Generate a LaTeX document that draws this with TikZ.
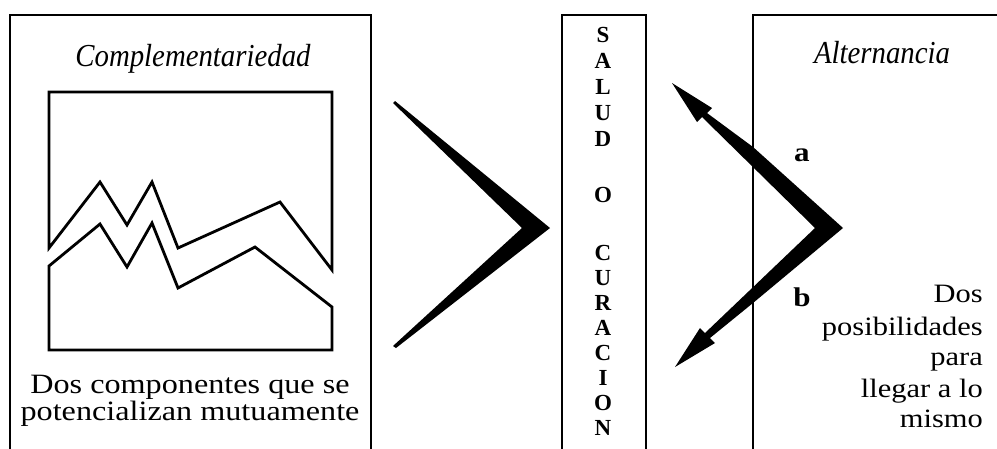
\documentclass[tikz,border=0pt]{standalone}
\usepackage{fontspec}
\setmainfont{Liberation Serif}
\newfontfamily\bodyfont[FakeStretch=1.15]{Liberation Serif}
\newfontfamily\headfont[FakeStretch=0.9]{Liberation Serif}
\begin{document}
\begin{tikzpicture}[x=1pt,y=-1pt,
  frame/.style={line width=2.5pt},
  chart/.style={line width=2.8pt, line join=miter},
  letter/.style={font=\bfseries\fontsize{23}{23}\selectfont, inner sep=0pt},
  title/.style={font=\headfont\itshape\fontsize{32}{32}\selectfont, inner sep=0pt, anchor=base},
  body/.style={font=\bodyfont\fontsize{28}{28}\selectfont, inner sep=0pt, anchor=base},
  rbody/.style={font=\bodyfont\fontsize{26.5}{26.5}\selectfont, inner sep=0pt, anchor=base east},
  tag/.style={font=\bodyfont\bfseries\fontsize{27}{27}\selectfont, inner sep=0pt}]
\useasboundingbox (0,0) rectangle (997,448);

% the three panels (open at the bottom / right)
\draw[frame] (10,449) -- (10,15) -- (371,15) -- (371,449);
\draw[frame] (562,449) -- (562,15) -- (646,15) -- (646,449);
\draw[frame] (753,449) -- (753,15) -- (998,15);

% complementarity chart: two zigzag bands inside a frame
\draw[chart] (49,248) -- (49,92) -- (332,92) -- (332,270) -- (280,202)
  -- (178,248) -- (152,182) -- (127,225) -- (100,182) -- cycle;
\draw[chart] (49,266) -- (100,224) -- (127,267) -- (152,223) -- (178,288)
  -- (255,247) -- (332,307) -- (332,350) -- (49,350) -- cycle;

% chevron pointing at the central column
\fill (395,101) -- (550,228) -- (396,348) -- (393,346) -- (522,228) -- (393,103) -- cycle;

% double chevron with arrowheads a / b
\fill (672,83) -- (712,108) -- (707,113) -- (753,147) -- (843,228)
  -- (753,303) -- (710,338) -- (715,343) -- (675,367) -- (700,328)
  -- (705,333) -- (815,228) -- (702,117) -- (697,122) -- cycle;

% titles
\node[title] (tl) at (193,66) {Complementariedad};
\node[title] (tr) at (882,63) {Alternancia};

% left caption
\node[body] (bl1) at (190,393) {Dos componentes que se};
\node[body] (bl2) at (190,420) {potencializan mutuamente};

% right caption
\node[rbody] (r1) at (983,302) {Dos};
\node[rbody] (r2) at (983,335) {posibilidades};
\node[rbody] (r3) at (983,365) {para};
\node[rbody] (r4) at (983,397) {llegar a lo};
\node[rbody] (r5) at (983,427) {mismo};

% arm labels
\node[tag] (la) at (802,155) {a};
\node[tag] (lb) at (802,297) {b};

% vertical lettering of the central column
\foreach \ch/\yy [count=\k] in {S/35,A/61,L/87,U/113,D/139,O/195,C/253,U/278,R/303,A/328,C/353,I/378,O/403,N/428}
  \node[letter] (v\k) at (603,\yy) {\ch};
\end{tikzpicture}
\end{document}
